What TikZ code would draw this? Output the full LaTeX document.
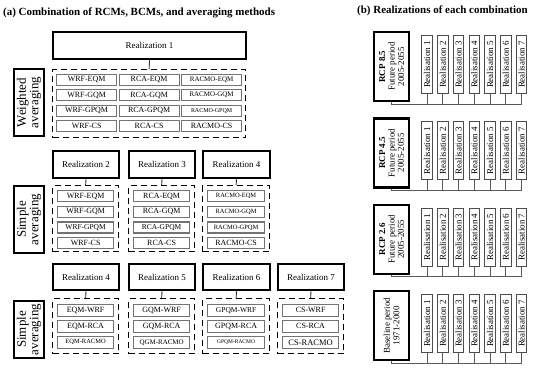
\documentclass[tikz,border=0pt]{standalone}
\usepackage{fontspec}
\setmainfont{Liberation Serif}
\newcommand\cellbox[7]{\node[cell, anchor=north west, minimum width=#4bp, minimum height=#5bp, font=\fontsize{#6}{#6}\selectfont] (#1) at (#2,#3) {#7};}
\begin{document}
\begin{tikzpicture}[x=1bp,y=-1bp,
  thickbox/.style={draw=black,line width=2bp,inner sep=0pt},
  dashbox/.style={draw=black,line width=1.3bp,dash pattern=on 6bp off 4bp,inner sep=0pt},
  cell/.style={draw=black!55,line width=1.2bp,inner sep=0pt},
  conn/.style={draw=black!80,line width=0.9bp},
  rconn/.style={draw=black!65,line width=0.9bp},
  rbox/.style={draw=black!70,line width=0.9bp,inner sep=0pt,minimum width=10.5bp,minimum height=58bp},
  bigbox/.style={draw=black,line width=2.2bp,inner sep=0pt,minimum width=35bp,minimum height=69bp},
  rlab/.style={font=\fontsize{13}{12.5}\selectfont,align=center,rotate=90,inner sep=0pt},
  real/.style={font=\fontsize{9}{9}\selectfont}
  ]
\useasboundingbox (0,0) rectangle (550,369);
% titles
\node[anchor=west,font=\bfseries\fontsize{11}{11}\selectfont,inner sep=0pt] (ta) at (3,13) {(a) Combination of RCMs, BCMs, and averaging methods};
\node[anchor=west,font=\bfseries\fontsize{11}{11}\selectfont,inner sep=0pt] (tb) at (357,11) {(b) Realizations of each combination};

% ---------- Section 1: weighted averaging
\node[thickbox,real,anchor=north west,minimum width=193bp,minimum height=27bp] (R1) at (52,31) {Realization 1};
\node[dashbox,anchor=north west,minimum width=193bp,minimum height=68bp] (D1) at (52,69) {};
\draw[conn] (R1.south) -- (D1.north);
\node[thickbox,anchor=north west,minimum width=30bp,minimum height=67bp] (L1) at (13,68) {};
\node[rlab] (L1t) at (L1.center) {Weighted\\averaging};
\cellbox{c11}{56}{73.5}{60}{11}{8}{WRF-EQM}
\cellbox{c12}{118.5}{73.5}{60}{11}{8}{RCA-EQM}
\cellbox{c13}{181}{73.5}{60}{11}{7}{RACMO-EQM}
\cellbox{c21}{56}{89}{60}{11}{8}{WRF-GQM}
\cellbox{c22}{118.5}{89}{60}{11}{8}{RCA-GQM}
\cellbox{c23}{181}{89}{60}{11}{7}{RACMO-GQM}
\cellbox{c31}{56}{104.5}{60}{11}{8}{WRF-GPQM}
\cellbox{c32}{118.5}{104.5}{60}{11}{8}{RCA-GPQM}
\cellbox{c33}{181}{104.5}{60}{11}{6}{RACMO-GPQM}
\cellbox{c41}{56}{120}{60}{11}{8}{WRF-CS}
\cellbox{c42}{118.5}{120}{60}{11}{8}{RCA-CS}
\cellbox{c43}{181}{120}{60}{11}{8}{RACMO-CS}

% ---------- Section 2: simple averaging
\node[thickbox,real,anchor=north west,minimum width=66bp,minimum height=27bp] (R2) at (52,150) {Realization 2};
\node[thickbox,real,anchor=north west,minimum width=66bp,minimum height=27bp] (R3) at (128,150) {Realization 3};
\node[thickbox,real,anchor=north west,minimum width=67bp,minimum height=27bp] (R4a) at (202,150) {Realization 4};
\node[dashbox,anchor=north west,minimum width=66bp,minimum height=66bp] (D2) at (52,185) {};
\node[dashbox,anchor=north west,minimum width=66bp,minimum height=66bp] (D3) at (128,185) {};
\node[dashbox,anchor=north west,minimum width=67bp,minimum height=66bp] (D4a) at (202,185) {};
\draw[conn] (R2.south) -- (D2.north);
\draw[conn] (R3.south) -- (D3.north);
\draw[conn] (R4a.south) -- (D4a.north);
\node[thickbox,anchor=north west,minimum width=30bp,minimum height=67bp] (L2) at (13,185) {};
\node[rlab] (L2t) at (L2.center) {Simple\\averaging};
\cellbox{s11}{57}{190}{56}{11}{8}{WRF-EQM}
\cellbox{s12}{57}{205.7}{56}{11}{8}{WRF-GQM}
\cellbox{s13}{57}{221.3}{56}{11}{7.5}{WRF-GPQM}
\cellbox{s14}{57}{237}{56}{11}{8}{WRF-CS}
\cellbox{s21}{133}{190}{56}{11}{8}{RCA-EQM}
\cellbox{s22}{133}{205.7}{56}{11}{8}{RCA-GQM}
\cellbox{s23}{133}{221.3}{56}{11}{7.5}{RCA-GPQM}
\cellbox{s24}{133}{237}{56}{11}{8}{RCA-CS}
\cellbox{s31}{207}{190}{57}{11}{6.5}{RACMO-EQM}
\cellbox{s32}{207}{205.7}{57}{11}{6.5}{RACMO-GQM}
\cellbox{s33}{207}{221.3}{57}{11}{6.5}{RACMO-GPQM}
\cellbox{s34}{207}{237}{57}{11}{8}{RACMO-CS}

% ---------- Section 3: simple averaging by BCM
\node[thickbox,real,anchor=north west,minimum width=66bp,minimum height=26bp] (R4b) at (52,263) {Realization 4};
\node[thickbox,real,anchor=north west,minimum width=66bp,minimum height=26bp] (R5) at (128,263) {Realization 5};
\node[thickbox,real,anchor=north west,minimum width=67bp,minimum height=26bp] (R6) at (202,263) {Realization 6};
\node[thickbox,real,anchor=north west,minimum width=66bp,minimum height=26bp] (R7) at (277,263) {Realization 7};
\node[dashbox,anchor=north west,minimum width=66bp,minimum height=55bp] (D4b) at (52,298) {};
\node[dashbox,anchor=north west,minimum width=66bp,minimum height=55bp] (D5) at (128,298) {};
\node[dashbox,anchor=north west,minimum width=67bp,minimum height=55bp] (D6) at (202,298) {};
\node[dashbox,anchor=north west,minimum width=66bp,minimum height=55bp] (D7) at (277,298) {};
\draw[conn] (R4b.south) -- (D4b.north);
\draw[conn] (R5.south) -- (D5.north);
\draw[conn] (R6.south) -- (D6.north);
\draw[conn] (R7.south) -- (D7.north);
\node[thickbox,anchor=north west,minimum width=30bp,minimum height=57bp] (L3) at (13,300) {};
\node[rlab] (L3t) at (L3.center) {Simple\\averaging};
\cellbox{b11}{57}{304}{56}{11.5}{8}{EQM-WRF}
\cellbox{b12}{57}{320}{56}{11.5}{8}{EQM-RCA}
\cellbox{b13}{57}{336}{56}{11.5}{6.5}{EQM-RACMO}
\cellbox{b21}{133}{304}{56}{11.5}{8}{GQM-WRF}
\cellbox{b22}{133}{320}{56}{11.5}{8}{GQM-RCA}
\cellbox{b23}{133}{336}{56}{11.5}{7}{QGM-RACMO}
\cellbox{b31}{207}{304}{57}{11.5}{7.5}{GPQM-WRF}
\cellbox{b32}{207}{320}{57}{11.5}{8}{GPQM-RCA}
\cellbox{b33}{207}{336}{57}{11.5}{5.5}{GPQM-RACMO}
\cellbox{b41}{282}{304}{56}{11.5}{8}{CS-WRF}
\cellbox{b42}{282}{320}{56}{11.5}{8}{CS-RCA}
\cellbox{b43}{282}{336}{56}{11.5}{8.5}{CS-RACMO}

% ---------- Right panel
\foreach \i/\lab in {0/{\textbf{RCP 8.5}\\Future period\\2005-2055},
                     1/{\textbf{RCP 4.5}\\Future period\\2005-2055},
                     2/{\textbf{RCP 2.6}\\Future period\\2005-2055},
                     3/{Baseline period\\1971-2000}}{
  \pgfmathsetmacro\T{35+86.33*\i}
  \node[bigbox,anchor=north west] (B\i) at (373,\T-4) {};
  \node[rotate=90,align=center,inner sep=0pt,font=\fontsize{9}{9.5}\selectfont] (Bt\i) at (B\i.center) {\lab};
  \coordinate (bus\i) at (521.5,\T+69);
  \draw[rconn] (B\i.south) |- (bus\i);
  \foreach \j in {1,...,7}{
    \node[rbox,anchor=north] (Q\i-\j) at ({427+15.75*(\j-1)},\T) {};
    \node[rotate=90,inner sep=0pt,font=\fontsize{9}{9}\selectfont] (Qt\i-\j) at (Q\i-\j.center) {Realisation \j};
    \draw[rconn] (Q\i-\j.south) -- (Q\i-\j.south |- bus\i);
  }
}
\end{tikzpicture}
\end{document}
